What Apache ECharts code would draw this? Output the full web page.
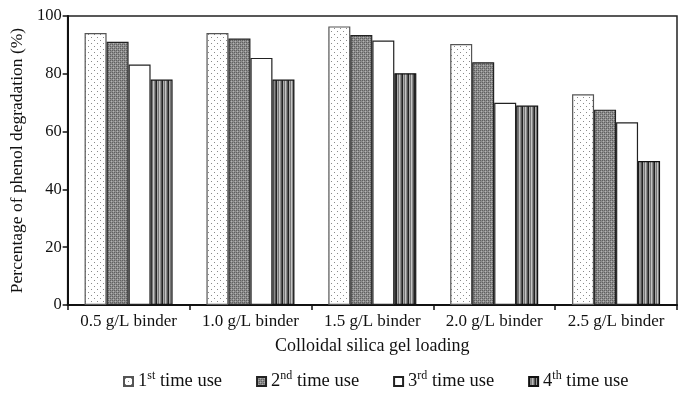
<!DOCTYPE html>
<html><head><meta charset="utf-8">
<script src="https://cdn.jsdelivr.net/npm/echarts@6/dist/echarts.min.js"></script>
<style>html,body{margin:0;padding:0;background:#fff}#c{width:678px;height:393px}</style>
</head><body><div id="c"></div>
<script>
const categories = ['0.5 g/L binder','1.0 g/L binder','1.5 g/L binder','2.0 g/L binder','2.5 g/L binder'];
const use1 = [94.1, 94.1, 96.4, 90.3, 72.9];
const use2 = [91.1, 92.2, 93.4, 84.0, 67.6];
const use3 = [83.2, 85.5, 91.5, 70.0, 63.2];
const use4 = [78.0, 78.0, 80.2, 69.0, 49.8];
const seriesNames = ['1st time use','2nd time use','3rd time use','4th time use'];
const legendNum = ['1','2','3','4'];
const legendSup = ['st','nd','rd','th'];
const yTicks = [0, 20, 40, 60, 80, 100];

function pat(draw, w, h) {
  const c = document.createElement('canvas'); c.width = w; c.height = h;
  const g = c.getContext('2d'); draw(g); return c;
}
const dots = pat(g => { g.fillStyle='#fff'; g.fillRect(0,0,6,6); g.fillStyle='#8a8a8a'; g.fillRect(1,1,1,1); g.fillRect(4,4,1,1); }, 6, 6);
const checker = pat(g => { g.fillStyle='#8c8c8c'; g.fillRect(0,0,4,4); g.fillStyle='#606060'; g.fillRect(0,0,1,1); g.fillRect(2,2,1,1); g.fillRect(2,0,1,1); g.fillRect(0,2,1,1); g.fillStyle='#b4b4b4'; g.fillRect(1,3,1,1);g.fillRect(3,1,1,1); }, 4, 4);
const stripes = pat(g => { const cols=['#222','#aaa','#777','#c4c4c4','#8a8a8a','#555']; cols.forEach((cc,i)=>{g.fillStyle=cc; g.fillRect(i,0,1,2);}); }, 6, 2);

const fills = [
  {image: dots, repeat: 'repeat'},
  {image: checker, repeat: 'repeat'},
  '#ffffff',
  {image: stripes, repeat: 'repeat'}
];
const borders = ['#555','#222','#222','#111'];
const values = [use1, use2, use3, use4];

const font = 'Liberation Serif';
const chart = echarts.init(document.getElementById('c'));
chart.setOption({
  animation: false,
  backgroundColor: '#fff',
  grid: {left: 66, right: 1, top: 16, bottom: 88, show: true, borderColor: '#222', borderWidth: 1.5},
  xAxis: {
    type: 'category', data: categories,
    name: 'Colloidal silica gel loading', nameLocation: 'middle', nameGap: 32,
    nameTextStyle: {fontFamily: font, fontSize: 18, color: '#111'},
    axisLine: {lineStyle: {color: '#111', width: 2}},
    axisTick: {show: true, length: 5, lineStyle: {color: '#111', width: 1.5}},
    axisLabel: {fontFamily: font, fontSize: 17, color: '#111', margin: 8, interval: 0}
  },
  yAxis: {
    type: 'value', min: 0, max: 100, interval: 20,
    name: 'Percentage of phenol degradation (%)', nameLocation: 'middle', nameGap: 40,
    nameTextStyle: {fontFamily: font, fontSize: 17.5, color: '#111'},
    axisLine: {show: true, lineStyle: {color: '#111', width: 2}},
    axisTick: {show: true, length: 5, lineStyle: {color: '#111', width: 1.5}},
    splitLine: {show: false},
    axisLabel: {fontFamily: font, fontSize: 16.5, color: '#111', margin: 6,
      formatter: v => yTicks.includes(v) ? String(v) : ''}
  },
  legend: {
    bottom: -3, left: 118, itemGap: 34, itemWidth: 9, itemHeight: 9, icon: 'rect',
    data: seriesNames,
    formatter: name => { const i = seriesNames.indexOf(name); return '{n|' + legendNum[i] + '}{sup|' + legendSup[i] + '}{n| time use}'; },
    textStyle: {fontFamily: font, fontSize: 18.5, color: '#111',
      rich: {
        n: {fontFamily: font, fontSize: 18.5, color: '#111', lineHeight: 23, verticalAlign: 'middle'},
        sup: {fontFamily: font, fontSize: 12, color: '#111', verticalAlign: 'top', lineHeight: 13}
      }}
  },
  series: values.map((vals, i) => ({
    name: seriesNames[i], type: 'bar', data: vals,
    barWidth: 22, barGap: '0%',
    itemStyle: {color: fills[i], borderColor: borders[i], borderWidth: 1.2}
  }))
});
</script></body></html>
